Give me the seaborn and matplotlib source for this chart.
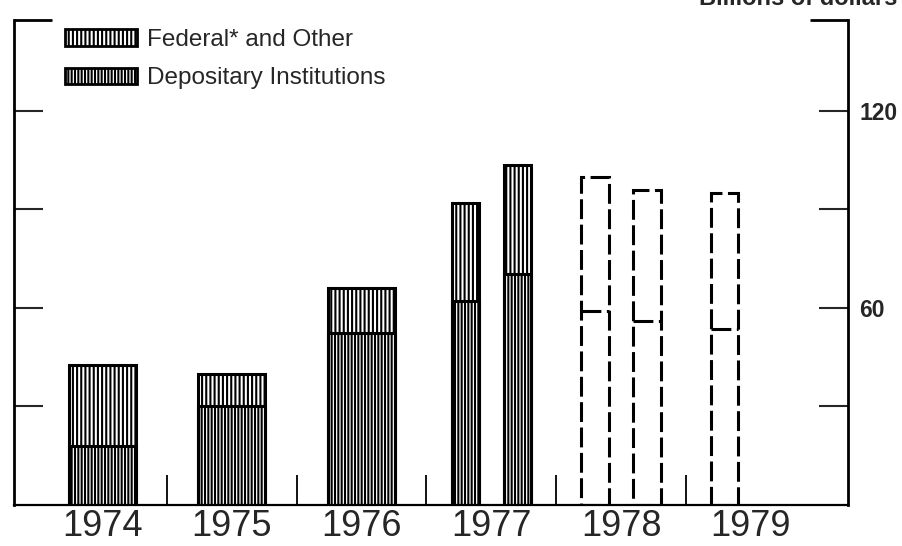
import numpy as np
import pandas as pd
import matplotlib
matplotlib.use("Agg")
import matplotlib.pyplot as plt
import matplotlib.patches as mpatches
import seaborn as sns

# Net mortgage flows, billions of dollars (annual rates)
years = ["1974", "1975", "1976", "1977", "1978", "1979"]
period_year = ["1974", "1975", "1976", "1977", "1977", "1978", "1978", "1979"]
period_half = [0, 0, 0, 1, 2, 1, 2, 1]          # 0 = whole year, 1/2 = first/second half
depository = [18.0, 30.0, 52.5, 62.0, 70.5, 59.0, 56.0, 53.5]
federal_other = [24.5, 10.0, 13.5, 30.0, 33.0, 41.0, 40.0, 41.5]
projected = [False, False, False, False, False, True, True, True]

y_ticks = [30, 60, 90, 120]
y_tick_labels = ["", "60", "", "120"]
legend_labels = ["Federal* and Other", "Depositary Institutions"]
units_label = "Billions of dollars"

sns.set_style("white")
plt.rcParams["font.family"] = ["Liberation Sans", "DejaVu Sans"]
plt.rcParams["hatch.linewidth"] = 1.5

half_offset = {0: 0.0, 1: -0.2, 2: 0.2}
df = pd.DataFrame({
    "year": period_year,
    "half": period_half,
    "depository": depository,
    "federal": federal_other,
    "projected": projected,
})
df["pos"] = [years.index(y) + half_offset[h] for y, h in zip(df["year"], df["half"])]
df["total"] = df["depository"] + df["federal"]

fig = plt.figure(figsize=(9.02, 5.46), dpi=100)
ax = fig.add_axes([14 / 902, 41 / 546, 834 / 902, 485 / 546])

HATCH_FED = "||||"
HATCH_DEP = "|||||"
DASH = (0, (6.5, 1.8))


def draw_group(sub, bar_width, dashed):
    pos = np.unique(sub["pos"])
    native = np.min(np.diff(pos)) if len(pos) > 1 else 1.0
    rel = bar_width / native
    for col, hatch in (("total", HATCH_FED), ("depository", HATCH_DEP)):
        n0 = len(ax.patches)
        sns.barplot(data=sub, x="pos", y=col, native_scale=True, width=rel,
                    color="white", saturation=1, errorbar=None, ax=ax)
        for p in ax.patches[n0:]:
            p.set_edgecolor("black")
            p.set_linewidth(2.2)
            if dashed:
                p.set_facecolor("none")
                p.set_hatch(None)
                if col == "total":
                    p.set_linestyle(DASH)
                else:
                    # the split is drawn as a dashed line across the top only
                    p.set_edgecolor("none")
            else:
                p.set_facecolor("white")
                p.set_hatch(hatch)
    if dashed:
        ax.hlines(sub["depository"], sub["pos"] - bar_width / 2,
                  sub["pos"] + bar_width / 2, color="black", lw=2.2,
                  linestyles=DASH)


annual = df[(df["half"] == 0) & (~df["projected"])]
halves = df[(df["half"] > 0) & (~df["projected"])]
proj = df[df["projected"]]
draw_group(annual, 0.516, False)
draw_group(halves, 0.21, False)
draw_group(proj, 0.21, True)

# Short year separators along the baseline
ax.vlines(np.arange(len(years) - 1) + 0.5, 0, 9, color="black", lw=1.3)

ax.set_xlim(-0.68, 5.75)
ax.set_ylim(0, 147.7)
ax.set_xticks(range(len(years)))
ax.set_xticklabels(years, fontsize=26)
ax.set_xlabel("")
ax.set_ylabel("")
ax.tick_params(axis="x", length=0, pad=3)

ax.set_yticks(y_ticks)
ax.tick_params(axis="y", which="both", direction="in", width=1.5,
               left=True, right=True, labelleft=False, labelright=True,
               length=21, pad=8)
ax.set_yticklabels(y_tick_labels, fontsize=16.5, fontweight="bold")

for side in ("left", "right", "bottom"):
    ax.spines[side].set_visible(True)
    ax.spines[side].set_color("black")
    ax.spines[side].set_linewidth(2.0)
ax.spines["bottom"].set_linewidth(1.6)
ax.spines["top"].set_visible(False)

# Corner stubs at the top of the frame
ax.plot([0, 0.046], [1, 1], transform=ax.transAxes, color="black", lw=2.0,
        clip_on=False, solid_capstyle="butt")
ax.plot([0.954, 1.0], [1, 1], transform=ax.transAxes, color="black", lw=2.0,
        clip_on=False, solid_capstyle="butt")

handles = [
    mpatches.Patch(facecolor="white", edgecolor="black", hatch=HATCH_FED, lw=2.0),
    mpatches.Patch(facecolor="white", edgecolor="black", hatch=HATCH_DEP, lw=2.0),
]
fig.legend(handles, legend_labels, loc="upper left",
           bbox_to_anchor=(65 / 902, 1 - 29 / 546), frameon=False,
           fontsize=17.5, handlelength=2.96, handleheight=0.66,
           handletextpad=0.4, labelspacing=0.67, borderpad=0, borderaxespad=0)

fig.text(897 / 902, 1 - 5 / 546, units_label, ha="right", va="baseline",
         fontsize=17, fontweight="bold")

fig.savefig("out.png", dpi=100)
